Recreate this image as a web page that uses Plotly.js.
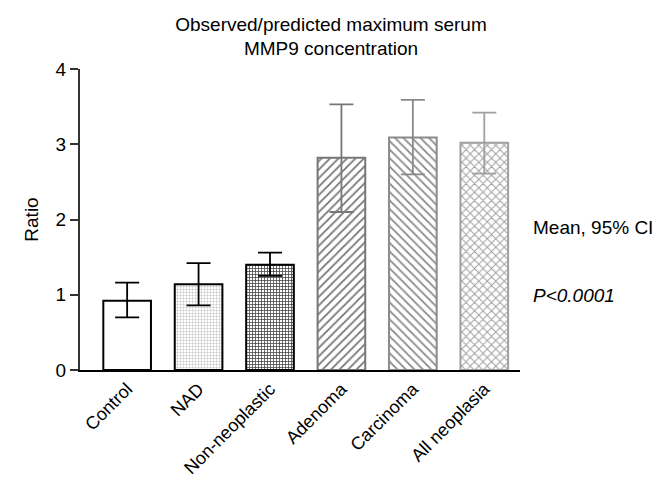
<!DOCTYPE html>
<html><head><meta charset="utf-8">
<script src="https://cdn.plot.ly/plotly-3.0.1.min.js"></script>
<style>body{margin:0;background:#fff}#chart{width:662px;height:480px}</style>
</head><body><div id="chart"></div>
<script>
var categories = ["Control", "NAD", "Non-neoplastic", "Adenoma", "Carcinoma", "All neoplasia"];
var means = [0.92, 1.14, 1.40, 2.82, 3.09, 3.02];
var ciUpper = [1.16, 1.42, 1.56, 3.53, 3.59, 3.42];
var ciLower = [0.70, 0.86, 1.25, 2.10, 2.60, 2.61];

var styles = [
  {line: "#000", err: "#000", pattern: {shape: "", bgcolor: "#fff"}},
  {line: "#000", err: "#000", pattern: {shape: "+", fgcolor: "#c8c8c8", bgcolor: "#fff", size: 3, solidity: 0.35}},
  {line: "#000", err: "#000", pattern: {shape: "+", fgcolor: "#444", bgcolor: "#fff", size: 3, solidity: 0.45}},
  {line: "#777", err: "#777", pattern: {shape: "/", fgcolor: "#777", bgcolor: "#fff", size: 6, solidity: 0.3}},
  {line: "#8a8a8a", err: "#8a8a8a", pattern: {shape: "\\", fgcolor: "#8a8a8a", bgcolor: "#fff", size: 6, solidity: 0.3}},
  {line: "#a0a0a0", err: "#a0a0a0", pattern: {shape: "x", fgcolor: "#a0a0a0", bgcolor: "#fff", size: 6, solidity: 0.3}}
];

var traces = categories.map(function (c, i) {
  return {
    type: "bar",
    x: [c],
    y: [means[i]],
    width: 0.667,
    marker: {color: "#fff", line: {color: styles[i].line, width: 2}, pattern: styles[i].pattern},
    error_y: {type: "data", symmetric: false, array: [ciUpper[i] - means[i]], arrayminus: [means[i] - ciLower[i]],
      color: styles[i].err, thickness: 1.8, width: 12},
    showlegend: false,
    hoverinfo: "skip"
  };
});

var font = {family: "Liberation Sans, Arial, sans-serif", size: 19, color: "#000"};
var tickFontX = {family: "Liberation Sans, Arial, sans-serif", size: 18, color: "#000"};
var layout = {
  width: 662, height: 480,
  margin: {l: 80, r: 142, t: 69, b: 110},
  paper_bgcolor: "#fff", plot_bgcolor: "#fff",
  barmode: "overlay",
  font: font,
  title: {text: "Observed/predicted maximum serum<br>MMP9 concentration", x: 0.5, xref: "container", y: 0.936, yref: "container", yanchor: "middle", font: font},
  xaxis: {type: "category", range: [-0.66, 5.5], showgrid: false, zeroline: false, showline: true, linecolor: "#000", linewidth: 1.5,
    ticks: "", tickangle: -45, tickfont: tickFontX, fixedrange: true, automargin: false},
  yaxis: {range: [0, 4], tickvals: [0, 1, 2, 3, 4], showgrid: false, zeroline: false, showline: true, linecolor: "#333", linewidth: 2,
    ticks: "outside", ticklen: 8, tickwidth: 2, tickcolor: "#333", tickfont: font, automargin: false,
    title: {text: "Ratio", font: font, standoff: 12}},
  annotations: [
    {text: "Mean, 95% CI", xref: "paper", yref: "paper", x: 1.025, y: 0.475, xanchor: "left", showarrow: false, font: font},
    {text: "<i>P<0.0001</i>", xref: "paper", yref: "paper", x: 1.025, y: 0.206, xanchor: "left", showarrow: false, font: font}
  ]
};
Plotly.newPlot("chart", traces, layout, {displayModeBar: false, staticPlot: true});
</script></body></html>
